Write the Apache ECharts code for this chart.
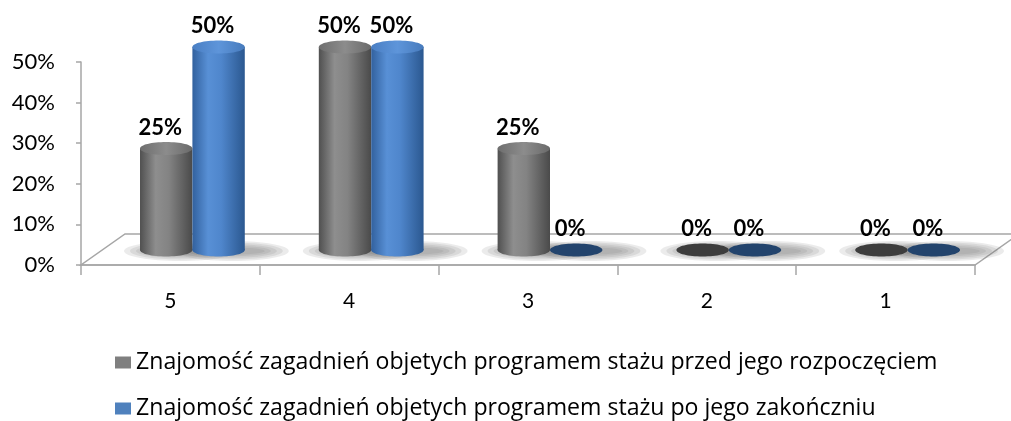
<!DOCTYPE html>
<html>
<head>
<meta charset="utf-8">
<script src="https://cdn.jsdelivr.net/npm/echarts@6/dist/echarts.min.js"></script>
<style>
  html, body { margin: 0; padding: 0; background: #fff; }
  #chart { width: 1011px; height: 421px; }
</style>
</head>
<body>
<div id="chart"></div>
<script>
const categories = ['5', '4', '3', '2', '1']
const seriesNames = [
  'Znajomość zagadnień objetych programem stażu przed jego rozpoczęciem',
  'Znajomość zagadnień objetych programem stażu po jego zakończniu'
]
const przed = [0.25, 0.5, 0.25, 0, 0]
const po = [0.5, 0.5, 0, 0, 0]

const FONT = 'Lato'
const LEGEND_FONT = 'Open Sans'
const DX = 22 // przesunięcie głębi 3D
const DY = -15

const chart = echarts.init(document.getElementById('chart'))

function linearGradient(stops) {
  return new echarts.graphic.LinearGradient(0, 0, 1, 0,
    stops.map(s => ({ offset: s[0], color: s[1] })))
}

const palette = [
  {
    body: [[0, '#505050'], [0.3, '#8e8e8e'], [0.55, '#838383'], [1, '#4a4a4a']],
    top: [[0, '#6e6e6e'], [0.5, '#8c8c8c'], [1, '#6a6a6a']],
    flat: '#3d3d3d',
    legend: '#7f7f7f'
  },
  {
    body: [[0, '#32619e'], [0.3, '#5890d6'], [0.55, '#4f86cc'], [1, '#2b5890']],
    top: [[0, '#4a7fc4'], [0.5, '#5e95da'], [1, '#477bbd']],
    flat: '#23446d',
    legend: '#4f81bd'
  }
]

function renderCylinder(params, api) {
  const s = params.seriesIndex
  const idx = api.value(0)
  const val = api.value(1)
  const base = api.coord([idx, 0])
  const top = api.coord([idx, val])
  const band = api.size([1, 0])[0]
  const w = band * 0.293
  const rx = w / 2
  const ry = 6.5
  const cx = base[0] + (s === 0 ? -rx : rx) + DX
  const by = base[1] + DY
  const ty = top[1] + DY
  const p = palette[s]
  const children = []

  // miękki cień na podłodze (kilka warstw)
  for (let k = 0; k < 5; k++) {
    children.push({
      type: 'ellipse',
      z2: 1,
      shape: { cx: cx + 14, cy: by + 1, rx: rx + 30 - k * 6, ry: 10 - k * 1.6 },
      style: { fill: 'rgba(110,110,110,0.14)' }
    })
  }

  if (val > 0) {
    children.push({
      type: 'ellipse',
      z2: 10,
      shape: { cx: cx, cy: by, rx: rx, ry: ry },
      style: { fill: linearGradient(p.body) }
    })
    children.push({
      type: 'rect',
      z2: 11,
      shape: { x: cx - rx, y: ty, width: w, height: by - ty },
      style: { fill: linearGradient(p.body) }
    })
    children.push({
      type: 'ellipse',
      z2: 12,
      shape: { cx: cx, cy: ty, rx: rx, ry: ry },
      style: { fill: linearGradient(p.top) }
    })
  } else {
    children.push({
      type: 'ellipse',
      z2: 10,
      shape: { cx: cx, cy: by, rx: rx, ry: ry },
      style: { fill: p.flat }
    })
  }

  children.push({
    type: 'text',
    z2: 20,
    style: {
      x: cx - 6,
      y: ty - 21,
      text: Math.round(val * 100) + '%',
      align: 'center',
      verticalAlign: 'middle',
      font: 'bold 22px ' + FONT,
      fill: '#000'
    }
  })

  return { type: 'group', children: children }
}

const gridLeft = 81
const gridRight = 36
const gridTop = 62
const gridBottom = 156
const floorY = 421 - gridBottom
const floorRight = 1011 - gridRight

function legendRow(name, top) {
  return {
    data: [name],
    orient: 'vertical',
    left: 115,
    top: top,
    padding: 0,
    itemWidth: 16,
    itemHeight: 12,
    itemGap: 6,
    icon: 'rect',
    textStyle: { fontFamily: LEGEND_FONT, fontSize: 23.1, color: '#000' }
  }
}

const option = {
  animation: false,
  backgroundColor: '#fff',
  textStyle: { fontFamily: FONT },
  grid: { left: gridLeft, right: gridRight, top: gridTop, bottom: gridBottom },
  graphic: [
    {
      type: 'polygon',
      z: 0,
      shape: {
        points: [
          [gridLeft, floorY],
          [floorRight, floorY],
          [floorRight + 44, floorY - 31],
          [gridLeft + 44, floorY - 31]
        ]
      },
      style: { fill: '#fff', stroke: '#a6a6a6', lineWidth: 1.5 }
    }
  ],
  legend: [legendRow(seriesNames[0], 351), legendRow(seriesNames[1], 397)],
  xAxis: {
    type: 'category',
    data: categories,
    axisLine: { lineStyle: { color: '#a6a6a6', width: 1.5 } },
    axisTick: { show: true, length: 10, lineStyle: { color: '#a6a6a6', width: 1.5 } },
    axisLabel: { color: '#000', fontSize: 21, margin: 26, fontFamily: FONT }
  },
  yAxis: {
    type: 'value',
    min: 0,
    max: 0.5,
    interval: 0.1,
    splitLine: { show: false },
    axisLine: { show: true, lineStyle: { color: '#a6a6a6', width: 1.5 } },
    axisTick: { show: true, length: 5, lineStyle: { color: '#a6a6a6', width: 1.5 } },
    axisLabel: {
      color: '#000',
      fontSize: 22,
      margin: 26,
      fontFamily: FONT,
      formatter: v => Math.round(v * 100) + '%'
    }
  },
  series: [przed, po].map((vals, i) => ({
    type: 'custom',
    name: seriesNames[i],
    clip: false,
    itemStyle: { color: palette[i].legend },
    encode: { x: 0, y: 1 },
    data: vals.map((v, j) => [j, v]),
    renderItem: renderCylinder
  }))
}

chart.setOption(option)
</script>
</body>
</html>
